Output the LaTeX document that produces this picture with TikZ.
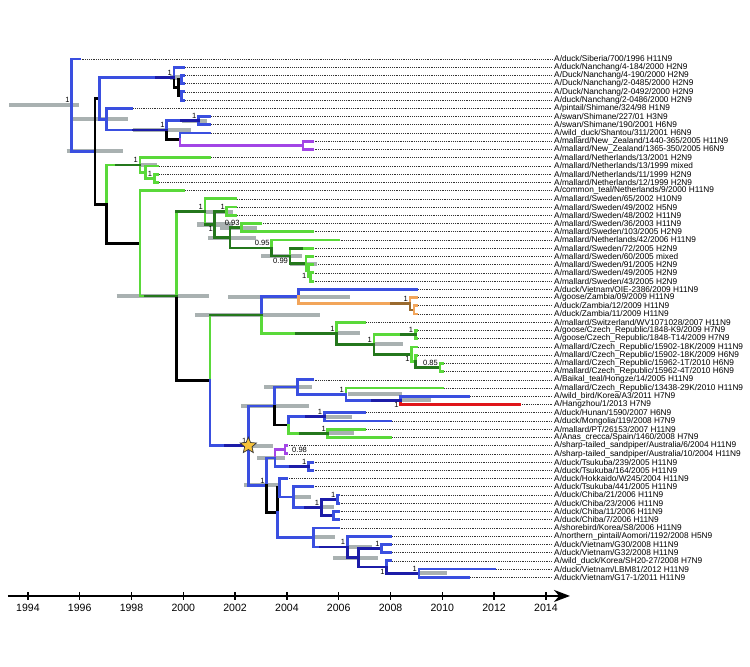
\documentclass[tikz,border=0pt]{standalone}
\usepackage{fontspec}
\setmainfont{Liberation Sans}
\usetikzlibrary{arrows.meta,shapes.geometric}
\definecolor{brBlue}{HTML}{3A4FE0}
\definecolor{brBlueDk}{HTML}{1C1CA8}
\definecolor{brGreen}{HTML}{5AD93A}
\definecolor{brGreenDk}{HTML}{24771C}
\definecolor{brOrange}{HTML}{F2A55A}
\definecolor{brOrangeDk}{HTML}{9A6A2E}
\definecolor{brPurple}{HTML}{A346E6}
\definecolor{brRed}{HTML}{E0161A}
\definecolor{hpdGrey}{HTML}{A9B1B1}
\definecolor{starGold}{HTML}{F6C23A}

\begin{document}
\begin{tikzpicture}[x=0.518cm,y=-0.16454cm,
    branch/.style={line width=1.6pt,line cap=rect},
    hpd/.style={line width=2.3pt,hpdGrey},
    lead/.style={line width=0.35pt,dash pattern=on 0.35pt off 0.7pt,black!80},
    tip/.style={anchor=west,inner sep=1pt,font=\fontsize{4.72}{5}\selectfont},
    pp/.style={inner sep=1pt,font=\fontsize{4.3}{5}\selectfont},
    yr/.style={font=\fontsize{6}{7}\selectfont},
    axis/.style={line width=1.4pt,-{Stealth[length=0.32cm,width=0.24cm]}},
    tick/.style={line width=0.8pt}]
  \useasboundingbox (2.923,-6.17) rectangle (31.88,74.9);

  % leaves
  \foreach \i/\yr/\txt in {
    1/1996/{A/duck/Siberia/700/1996 H11N9},
    2/2000/{A/duck/Nanchang/4-184/2000 H2N9},
    3/2000/{A/Duck/Nanchang/4-190/2000 H2N9},
    4/2000/{A/Duck/Nanchang/2-0485/2000 H2N9},
    5/2000/{A/Duck/Nanchang/2-0492/2000 H2N9},
    6/2000/{A/duck/Nanchang/2-0486/2000 H2N9},
    7/1998/{A/pintail/Shimane/324/98 H1N9},
    8/2001/{A/swan/Shimane/227/01 H3N9},
    9/2001/{A/swan/Shimane/190/2001 H6N9},
    10/2001/{A/wild\_duck/Shantou/311/2001 H6N9},
    11/2005/{A/mallard/New\_Zealand/1440-365/2005 H11N9},
    12/2005/{A/mallard/New\_Zealand/1365-350/2005 H6N9},
    13/2001/{A/mallard/Netherlands/13/2001 H2N9},
    14/1999/{A/mallard/Netherlands/13/1999 mixed},
    15/1999/{A/mallard/Netherlands/11/1999 H2N9},
    16/1999/{A/mallard/Netherlands/12/1999 H2N9},
    17/2000/{A/common\_teal/Netherlands/9/2000 H11N9},
    18/2002/{A/mallard/Sweden/65/2002 H10N9},
    19/2002/{A/mallard/Sweden/49/2002 H5N9},
    20/2002/{A/mallard/Sweden/48/2002 H11N9},
    21/2003/{A/mallard/Sweden/36/2003 H11N9},
    22/2005/{A/mallard/Sweden/103/2005 H2N9},
    23/2006/{A/mallard/Netherlands/42/2006 H11N9},
    24/2005/{A/mallard/Sweden/72/2005 H2N9},
    25/2005/{A/mallard/Sweden/60/2005 mixed},
    26/2005/{A/mallard/Sweden/91/2005 H2N9},
    27/2005/{A/mallard/Sweden/49/2005 H2N9},
    28/2005/{A/mallard/Sweden/43/2005 H2N9},
    29/2009/{A/duck/Vietnam/OIE-2386/2009 H11N9},
    30/2009/{A/goose/Zambia/09/2009 H11N9},
    31/2009/{A/duck/Zambia/12/2009 H11N9},
    32/2009/{A/duck/Zambia/11/2009 H11N9},
    33/2007/{A/mallard/Switzerland/WV1071028/2007 H11N9},
    34/2009/{A/goose/Czech\_Republic/1848-K9/2009 H7N9},
    35/2009/{A/goose/Czech\_Republic/1848-T14/2009 H7N9},
    36/2009/{A/mallard/Czech\_Republic/15902-18K/2009 H11N9},
    37/2009/{A/mallard/Czech\_Republic/15902-18K/2009 H6N9},
    38/2010/{A/mallard/Czech\_Republic/15962-1T/2010 H6N9},
    39/2010/{A/mallard/Czech\_Republic/15962-4T/2010 H6N9},
    40/2005/{A/Baikal\_teal/Hongze/14/2005 H11N9},
    41/2010/{A/mallard/Czech\_Republic/13438-29K/2010 H11N9},
    42/2011/{A/wild\_bird/Korea/A3/2011 H7N9},
    43/2013/{A/Hangzhou/1/2013 H7N9},
    44/2007/{A/duck/Hunan/1590/2007 H6N9},
    45/2008/{A/duck/Mongolia/119/2008 H7N9},
    46/2007/{A/mallard/PT/26153/2007 H11N9},
    47/2008/{A/Anas\_crecca/Spain/1460/2008 H7N9},
    48/2004/{A/sharp-tailed\_sandpiper/Australia/6/2004 H11N9},
    49/2004/{A/sharp-tailed\_sandpiper/Australia/10/2004 H11N9},
    50/2005/{A/duck/Tsukuba/239/2005 H11N9},
    51/2005/{A/duck/Tsukuba/164/2005 H11N9},
    52/2004/{A/duck/Hokkaido/W245/2004 H11N9},
    53/2005/{A/duck/Tsukuba/441/2005 H11N9},
    54/2006/{A/duck/Chiba/21/2006 H11N9},
    55/2006/{A/duck/Chiba/23/2006 H11N9},
    56/2006/{A/duck/Chiba/11/2006 H11N9},
    57/2006/{A/duck/Chiba/7/2006 H11N9},
    58/2006/{A/shorebird/Korea/S8/2006 H11N9},
    59/2008/{A/northern\_pintail/Aomori/1192/2008 H5N9},
    60/2008/{A/duck/Vietnam/G30/2008 H11N9},
    61/2008/{A/duck/Vietnam/G32/2008 H11N9},
    62/2008/{A/wild\_duck/Korea/SH20-27/2008 H7N9},
    63/2012/{A/duck/Vietnam/LBM81/2012 H11N9},
    64/2011/{A/duck/Vietnam/G17-1/2011 H11N9}} {
    \coordinate (L\i) at (\yr-1990,\i);
    \node[tip] (T\i) at (24.24,\i) {\txt};
    \draw[lead] (L\i) -- (T\i);
  }

  % internal nodes
  \coordinate (R) at (5.69,6.6);
  \coordinate (N1) at (6.59,12.21);
  \coordinate (N2) at (6.78,5.78);
  \coordinate (NC0) at (9.64,3.25);
  \coordinate (NC1) at (9.83,4.5);
  \coordinate (NC2) at (9.94,3.5);
  \coordinate (NC3) at (9.94,5.5);
  \coordinate (N6) at (7.04,8.31);
  \coordinate (N7) at (9.36,9.625);
  \coordinate (N8) at (10.58,8.5);
  \coordinate (N9) at (9.87,10.75);
  \coordinate (N10) at (14.62,11.5);
  \coordinate (N3) at (7.04,18.64);
  \coordinate (G1) at (8.33,13.875);
  \coordinate (G2) at (8.55,14.75);
  \coordinate (G3) at (8.88,15.5);
  \coordinate (N4) at (8.33,23.4);
  \coordinate (N5) at (9.75,29.81);
  \coordinate (S1) at (10.84,19.56);
  \coordinate (S2) at (11.22,21.12);
  \coordinate (S3) at (11.68,19.5);
  \coordinate (S4) at (11.80,22.73);
  \coordinate (S5) at (12.25,21.5);
  \coordinate (S6) at (13.41,23.97);
  \coordinate (S7) at (14.12,24.94);
  \coordinate (S8) at (14.74,25.875);
  \coordinate (S9) at (14.83,26.75);
  \coordinate (S10) at (14.92,27.5);
  \coordinate (N11) at (11.03,40.06);
  \coordinate (Z) at (13.03,32.11);
  \coordinate (Y1) at (14.44,29.875);
  \coordinate (Y3) at (18.75,30.75);
  \coordinate (Y4) at (18.91,31.5);
  \coordinate (Y2) at (15.92,34.34);
  \coordinate (Y5) at (17.36,35.69);
  \coordinate (Y6) at (18.95,34.5);
  \coordinate (Y7) at (18.82,36.875);
  \coordinate (Y8) at (18.95,37.75);
  \coordinate (Y9) at (19.91,38.5);
  \coordinate (ST) at (12.51,48.0);
  \coordinate (X1) at (13.51,43.19);
  \coordinate (X3) at (14.40,40.875);
  \coordinate (X5) at (16.28,41.75);
  \coordinate (X6) at (18.39,42.5);
  \coordinate (X4) at (14.05,45.5);
  \coordinate (X7) at (15.44,44.5);
  \coordinate (X8) at (15.58,46.5);
  \coordinate (X2) at (13.22,52.82);
  \coordinate (X9) at (13.54,49.5);
  \coordinate (X11) at (13.93,48.5);
  \coordinate (X12) at (14.83,50.5);
  \coordinate (X10) at (13.64,56.14);
  \coordinate (X13) at (13.71,53.125);
  \coordinate (X14) at (14.27,54.25);
  \coordinate (X16) at (15.32,55.5);
  \coordinate (X17) at (15.95,54.5);
  \coordinate (X18) at (15.79,56.5);
  \coordinate (X15) at (15.02,59.16);
  \coordinate (X19) at (16.33,60.31);
  \coordinate (X20) at (16.76,61.625);
  \coordinate (X21) at (17.66,60.5);
  \coordinate (X22) at (17.85,62.75);
  \coordinate (X23) at (19.10,63.5);

  % node-age bars
  \foreach \n/\a/\b in {R/3.28/5.98, N6/5.69/7.85, N1/5.50/7.66, N7/8.06/10.29,
      N8/9.94/10.92, NC0/9.5/10.0, G1/8.33/8.97, N5/7.43/11.0, S1/10.84/11.92,
      S2/10.52/11.92, S4/10.95/12.81, S5/11.42/12.85, S7/13.0/14.58, S8/14.12/15.16,
      Z/10.45/15.28, Y1/11.73/16.44, Y2/15.97/16.82, Y5/17.40/18.47, X3/13.12/14.96,
      X1/12.22/14.85, X5/16.36/18.43, X6/18.43/19.55, X7/15.47/16.50, X8/15.58/16.59,
      ST/12.57/13.47, X9/12.86/13.93, X2/12.34/13.67, X14/14.27/14.92, X16/15.32/15.82,
      X15/15.02/15.86, X19/16.37/17.27, X20/15.77/17.53, X23/19.14/20.17}
    \draw[hpd] (\a,0 |- \n) -- (\b,0 |- \n);

  % branches
  \foreach \p/\c/\col in {R/L1/brBlue, R/N1/brBlue, N1/N2/black, N1/N3/black,
      N2/NC0/brBlue, N2/N6/brBlue, NC0/L2/brBlue, NC0/NC1/black, NC1/NC2/black,
      NC1/NC3/black, NC2/L3/brBlue, NC2/L4/brBlue, NC3/L5/brBlue, NC3/L6/brBlue,
      N6/L7/brBlue, N6/N7/brBlue, N7/N8/brBlue, N7/N9/black, N8/L8/brBlue,
      N8/L9/brBlue, N9/L10/brBlue, N9/N10/brPurple, N10/L11/brPurple, N10/L12/brPurple,
      N3/G1/brGreen, N3/N4/black, G1/L13/brGreen, G1/G2/brGreen, G2/L14/brGreen,
      G2/G3/brGreen, G3/L15/brGreen, G3/L16/brGreen, N4/L17/brGreen, N4/N5/brGreen,
      N5/S1/brGreen, N5/N11/black, S1/L18/brGreen, S1/S2/brGreen, S2/S3/brGreenDk,
      S2/S4/brGreenDk, S3/L19/brGreen, S3/L20/brGreen, S4/S5/brGreenDk, S4/S6/brGreenDk,
      S5/L21/brGreen, S5/L22/brGreen, S6/L23/brGreen, S6/S7/brGreenDk, S7/L24/brGreen,
      S7/S8/brGreenDk, S8/L25/brGreen, S8/S9/brGreen, S9/L26/brGreen, S9/S10/brGreen,
      S10/L27/brGreen, S10/L28/brGreen, N11/Z/brGreen, N11/ST/brBlue,
      Z/Y1/brBlue, Z/Y2/brGreen, Y1/L29/brBlue, Y1/Y3/brOrange, Y3/L30/brOrange,
      Y3/Y4/brOrangeDk, Y4/L31/brOrange, Y4/L32/brOrange, Y2/L33/brGreen,
      Y2/Y5/brGreenDk, Y5/Y6/brGreen, Y5/Y7/brGreenDk, Y6/L34/brGreen, Y6/L35/brGreen,
      Y7/L36/brGreen, Y7/Y8/brGreen, Y8/L37/brGreen, Y8/Y9/brGreenDk, Y9/L38/brGreen,
      Y9/L39/brGreen, ST/X1/brBlue, ST/X2/brBlue, X1/X3/brBlue, X1/X4/black,
      X3/L40/brBlue, X3/X5/brBlue, X5/L41/brGreen, X5/X6/brBlue, X6/L42/brBlue,
      X6/L43/brRed, X4/X7/brBlue, X4/X8/brGreen, X7/L44/brBlue, X7/L45/brBlue,
      X8/L46/brGreen, X8/L47/brGreen, X2/X9/brBlue, X2/X10/black, X9/X11/brPurple,
      X9/X12/brBlue, X11/L48/brPurple, X11/L49/brPurple, X12/L50/brBlue, X12/L51/brBlue,
      X10/X13/black, X10/X15/brBlue, X13/L52/brBlue, X13/X14/brBlue, X14/L53/brBlue,
      X14/X16/brBlue, X16/X17/brBlueDk, X16/X18/brBlueDk, X17/L54/brBlue, X17/L55/brBlue,
      X18/L56/brBlue, X18/L57/brBlue, X15/L58/brBlue, X15/X19/brBlue, X19/L59/brBlue,
      X19/X20/brBlueDk, X20/X21/brBlueDk, X20/X22/brBlueDk, X21/L60/brBlue,
      X21/L61/brBlue, X22/L62/brBlue, X22/X23/brBlueDk, X23/L63/brBlue, X23/L64/brBlue}
    \draw[branch,\col] (\p) |- (\c);

  % darker stretches
  \foreach \c/\a/\col in {NC0/8.98/brBlueDk, N7/8.06/brBlueDk, N8/9.94/brBlueDk,
      G1/7.43/brGreenDk, N5/8.52/brGreenDk, S1/9.75/brGreenDk, S2/10.84/brGreenDk,
      Z/11.03/brGreenDk, Y3/18.05/brOrangeDk, Y2/14.38/brGreenDk, Y6/18.43/brGreenDk,
      X6/17.29/brBlueDk, X7/14.74/brBlueDk, X8/14.51/brGreenDk, X12/14.12/brBlueDk,
      X16/14.70/brBlueDk, X19/15.28/brBlueDk, ST/11.61/brBlueDk}
    \draw[branch,\col] (\a,0 |- \c) -- (\c);
  \draw[branch,brGreenDk] (S7 |- L24) -- (14.58,0 |- L24);

  % posterior values
  \foreach \n/\v/\a in {R/1/south east, NC0/1/south east, N8/1/south east,
      N7/1/south east, G1/1/south east, G3/1/south east, S1/1/south east,
      S3/1/south east, S5/0.93/south east, S2/1/north east, S6/0.95/south east,
      S7/0.99/north east, S9/1/north east, Y3/1/south east, Y2/1/south east,
      Y5/1/south east, Y6/1/south east, Y7/1/north east, Y9/0.85/south east,
      X5/1/south east, X6/1/north east, X7/1/south east, X8/1/south east,
      ST/1/south east, X12/1/south east, X2/1/south east, X17/1/south east,
      X16/1/south east, X19/1/south east, X21/1/south east, X23/1/south east,
      X22/1/north east}
    \node[pp,anchor=\a] (pp-\n) at (\n) {\v};
  \node[pp,anchor=west,xshift=0.1cm] (pp-X11) at (X11) {0.98};

  \node[star,star points=5,star point ratio=2.2,minimum size=0.34cm,inner sep=0pt,
    fill=starGold,draw=black!80,line width=0.4pt] (starmark) at (ST) {};

  % time axis
  \coordinate (ax0) at (3.23,66.27);
  \coordinate (ax1) at (24.93,66.27);
  \draw[axis] (ax0) -- (ax1);
  \foreach \yr in {1994,1996,...,2014} {
    \draw[tick] (\yr-1990,65.8) -- (\yr-1990,66.74);
    \node[yr] (lab\yr) at (\yr-1990,67.75) {\yr};
  }
\end{tikzpicture}
\end{document}
